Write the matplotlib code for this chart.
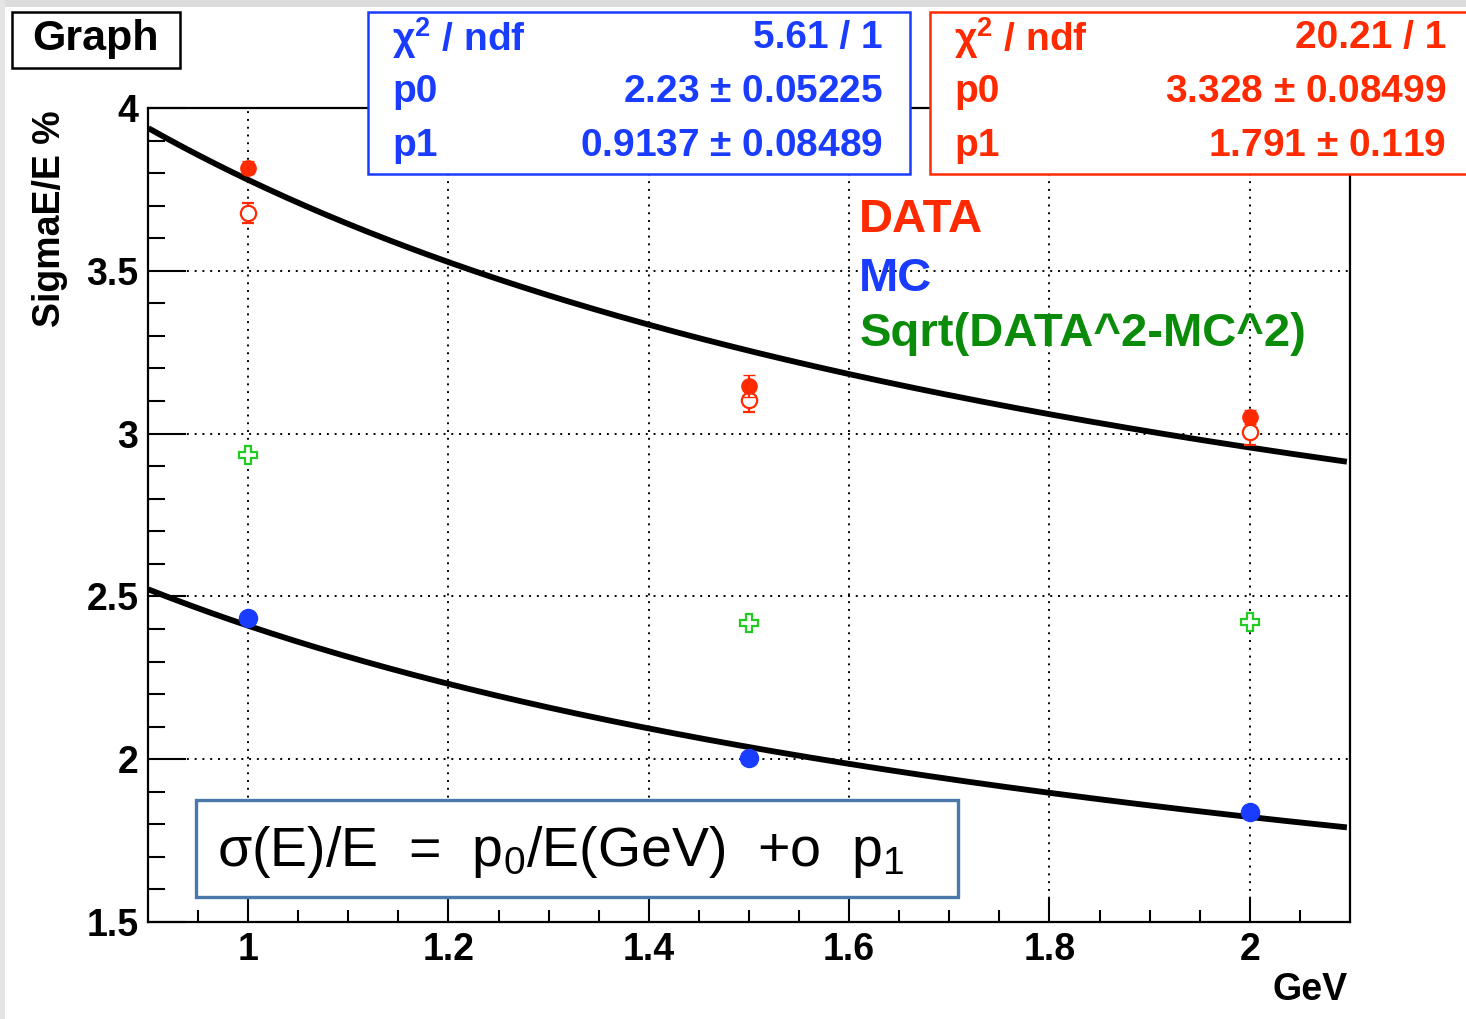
import numpy as np
import matplotlib
matplotlib.use('Agg')
import matplotlib.pyplot as plt
from matplotlib.patches import Rectangle

plt.rcParams['font.family'] = 'Liberation Sans'
plt.rcParams['mathtext.default'] = 'regular'

# measured points (GeV, sigma/E in %)
energy = [1.0, 1.5, 2.0]
data_sigma = [3.816, 3.146, 3.051]
data_err = [0.02, 0.034, 0.022]
data_alt_sigma = [3.678, 3.103, 3.005]
data_alt_err = [0.03, 0.037, 0.04]
mc_sigma = [2.434, 2.004, 1.838]
mc_err = [0.012, 0.012, 0.012]
diff_sigma = [2.934, 2.418, 2.421]
diff_err = [0.01, 0.01, 0.01]

# fit results shown in the stat boxes
mc_fit = {'chi2': '5.61 / 1', 'p0': 2.23, 'p0e': 0.05225, 'p1': 0.9137, 'p1e': 0.08489}
data_fit = {'chi2': '20.21 / 1', 'p0': 3.328, 'p0e': 0.08499, 'p1': 1.791, 'p1e': 0.119}

RED = '#ff2a00'
BLUE = '#1a3cff'
GREEN = '#0a8c0a'
LGREEN = '#22cc22'

W, H = 1466, 1019
fig = plt.figure(figsize=(W / 100, H / 100), dpi=100)
fig.patch.set_facecolor('white')

def fx(px):
    return px / W

def fy(py):
    return 1 - py / H

# grey canvas border
fig.add_artist(Rectangle((0, fy(7)), 1, 7 / H, transform=fig.transFigure, color='#dcdcdc', lw=0))
fig.add_artist(Rectangle((0, 0), 5 / W, 1, transform=fig.transFigure, color='#e4e4e4', lw=0))

ax = fig.add_axes([fx(148), fy(922), (1350 - 148) / W, (922 - 108) / H])
ax.set_xlim(0.9, 2.1)
ax.set_ylim(1.5, 4.0)

# fit curves  sqrt(p0^2/E + p1^2)
E = np.linspace(0.903, 2.094, 300)
for fit in (data_fit, mc_fit):
    ax.plot(E, np.sqrt(fit['p0'] ** 2 / E + fit['p1'] ** 2), color='black', lw=4.2, zorder=3)

ax.errorbar(energy, data_alt_sigma, yerr=data_alt_err, fmt='o', mfc='white', mec=RED, ecolor=RED,
            ms=11, mew=1.6, capsize=4, elinewidth=1.5, zorder=4)
ax.errorbar(energy, data_sigma, yerr=data_err, fmt='o', color=RED, ms=11, capsize=4, elinewidth=1.5, zorder=5)
ax.errorbar(energy, mc_sigma, yerr=mc_err, fmt='o', color=BLUE, ms=13, capsize=3, elinewidth=1.5, zorder=5)
ax.errorbar(energy, diff_sigma, yerr=diff_err, fmt='P', mfc='white', mec=LGREEN, ecolor=LGREEN,
            ms=13, mew=1.6, capsize=0, zorder=5)

ax.set_xticks(np.arange(1.0, 2.01, 0.2))
ax.set_xticks(np.arange(0.95, 2.1, 0.05), minor=True)
ax.set_yticks(np.arange(1.5, 4.01, 0.5))
ax.set_yticks(np.arange(1.5, 4.01, 0.1), minor=True)
ax.set_xticklabels(['1', '1.2', '1.4', '1.6', '1.8', '2'])
ax.set_yticklabels(['1.5', '2', '2.5', '3', '3.5', '4'])
ax.tick_params(axis='both', which='both', direction='in', width=1.5, top=False, right=False,
               labelsize=27, pad=7)
ax.tick_params(axis='x', which='major', length=17)
ax.tick_params(axis='x', which='minor', length=9)
ax.tick_params(axis='y', which='major', length=27)
ax.tick_params(axis='y', which='minor', length=12)
for lab in ax.get_xticklabels() + ax.get_yticklabels():
    lab.set_fontweight('bold')
for sp in ax.spines.values():
    sp.set_linewidth(1.6)

ax.grid(True, which='major', color='black', linestyle=(0, (1, 3)), linewidth=1.4)

fig.text(fx(1348), fy(990), 'GeV', ha='right', va='center', fontsize=27, fontweight='bold')
fig.text(fx(50), fy(110), 'SigmaE/E %', ha='center', va='top', rotation=90, fontsize=27, fontweight='bold')

# legend text
ax.text(1.61, 3.655, 'DATA', color=RED, fontsize=34, fontweight='bold', va='center')
ax.text(1.61, 3.475, 'MC', color=BLUE, fontsize=34, fontweight='bold', va='center')
ax.text(1.61, 3.305, 'Sqrt(DATA^2-MC^2)', color=GREEN, fontsize=34, fontweight='bold', va='center')

# title box
fig.add_artist(Rectangle((fx(12), fy(68)), 168 / W, 56 / H, transform=fig.transFigure,
                         facecolor='white', edgecolor='black', lw=1.8))
fig.text(fx(95), fy(39), 'Graph', ha='center', va='center', fontsize=31, fontweight='bold')


def stat_box(x0, x1, fit, color):
    fig.add_artist(Rectangle((fx(x0), fy(174)), (x1 - x0) / W, 162 / H, transform=fig.transFigure,
                             facecolor='white', edgecolor=color, lw=1.8))
    rows = [(r'$\chi^{2}$ / ndf', fit['chi2']),
            ('p0', '%g $\\pm$ %g' % (fit['p0'], fit['p0e'])),
            ('p1', '%g $\\pm$ %g' % (fit['p1'], fit['p1e']))]
    for (name, val), ypx in zip(rows, [38, 92, 146]):
        fig.text(fx(x0 + 24), fy(ypx), name, color=color, fontsize=28, fontweight='bold', va='center')
        fig.text(fx(x1 - 27), fy(ypx), val, color=color, fontsize=28, fontweight='bold',
                 va='center', ha='right')


stat_box(368, 910, mc_fit, BLUE)
stat_box(930, 1473, data_fit, RED)

# formula box
fig.add_artist(Rectangle((fx(196), fy(897)), (958 - 196) / W, 97 / H, transform=fig.transFigure,
                         facecolor='white', edgecolor='#4a78aa', lw=2.4))
fig.text(fx(217), fy(852), r'σ(E)/E  =  p$_0$/E(GeV)  +o  p$_1$', fontsize=40, va='center')

fig.savefig('out.png', dpi=100)
